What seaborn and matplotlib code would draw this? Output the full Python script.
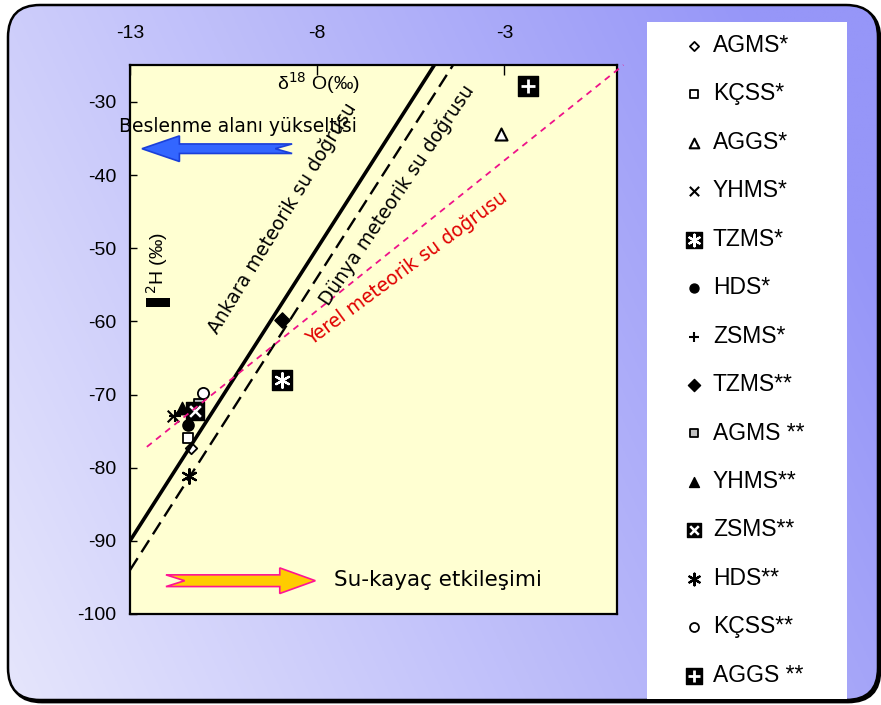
import numpy as np
import matplotlib
matplotlib.use("Agg")
import matplotlib.pyplot as plt
from matplotlib.patches import FancyBboxPatch, Rectangle, Polygon
from matplotlib.legend_handler import HandlerTuple
import seaborn as sns

# Isotope composition of the sampled waters: δ18O (‰) and δ2H (‰)
labels = ["AGMS*", "KÇSS*", "AGGS*", "YHMS*", "TZMS*", "HDS*", "ZSMS*",
          "TZMS**", "AGMS **", "YHMS**", "ZSMS**", "HDS**", "KÇSS**", "AGGS **"]
d18o = [-11.38, -11.46, -3.08, -11.84, -8.94, -11.44, -11.80,
        -8.94, -11.16, -11.62, -11.26, -11.42, -11.06, -2.36]
d2h = [-77.3, -75.9, -34.4, -73.0, -68.0, -74.1, -73.0,
       -59.8, -71.3, -71.8, -72.2, -81.1, -69.8, -27.8]

# Meteoric water lines: δ2H = slope * δ18O + intercept
line_names = ["Ankara", "Dünya", "Yerel"]
line_slopes = [8.0, 8.0, 4.1]
line_intercepts = [14.0, 10.0, -25.7]

x_ticks = [-13, -8, -3]
y_ticks = [-100, -90, -80, -70, -60, -50, -40, -30]

sns.set_style("ticks")
plt.rcParams["font.family"] = ["Liberation Sans", "DejaVu Sans"]
plt.rcParams["axes.unicode_minus"] = False
plt.rcParams["text.color"] = "black"
plt.rcParams["xtick.color"] = "black"
plt.rcParams["ytick.color"] = "black"

fig = plt.figure(figsize=(8.81, 7.05), dpi=100)
fig.patch.set_facecolor("white")

# --- rounded panel with a lavender-to-blue gradient ---
shadow = FancyBboxPatch((0.10, 0.03), 8.70, 6.95,
                        boxstyle="round,pad=0,rounding_size=0.32",
                        transform=fig.dpi_scale_trans, facecolor="black",
                        edgecolor="black", lw=2, zorder=-12)
fig.patches.append(shadow)
panel = FancyBboxPatch((0.08, 0.05), 8.70, 6.95,
                       boxstyle="round,pad=0,rounding_size=0.32",
                       transform=fig.dpi_scale_trans, facecolor="none",
                       edgecolor="black", lw=1.8, zorder=-9)
fig.patches.append(panel)

bg = fig.add_axes([0, 0, 1, 1], zorder=-10)
bg.set_axis_off()
gx, gy = np.meshgrid(np.linspace(0, 1, 300), np.linspace(0, 1, 300))
t = np.clip(0.8 * gx + 0.3 * gy + 0.02, 0, 1)
light = np.array([232, 232, 252]) / 255
dark = np.array([150, 150, 248]) / 255
img = light[None, None, :] * (1 - t[..., None]) + dark[None, None, :] * t[..., None]
im = bg.imshow(img, origin="lower", extent=[0, 1, 0, 1], aspect="auto",
               transform=fig.transFigure)
clip_box = FancyBboxPatch((0.08, 0.05), 8.70, 6.95,
                          boxstyle="round,pad=0,rounding_size=0.32",
                          transform=fig.dpi_scale_trans, facecolor="none",
                          edgecolor="none")
im.set_clip_path(clip_box)

# white legend panel
fig.patches.append(Rectangle((6.47, 0.06), 2.00, 6.77, transform=fig.dpi_scale_trans,
                             facecolor="white", edgecolor="none", zorder=-8))

# --- main plot ---
ax = fig.add_axes([130 / 881, 1 - 614 / 705, 486.7 / 881, (614 - 65.3) / 705])
ax.set_facecolor("#ffffd2")

styles = {
    "AGMS*":   dict(marker="D", s=34, color="white", edgecolor="black", linewidth=1.3),
    "KÇSS*":   dict(marker="s", s=55, color="white", edgecolor="black", linewidth=1.3),
    "AGGS*":   dict(marker="^", s=75, color="white", edgecolor="black", linewidth=1.5),
    "YHMS*":   dict(marker="x", s=70, color="black", linewidth=1.5),
    "TZMS*":   dict(marker="s", s=220, color="black", edgecolor="black", linewidth=1.0),
    "HDS*":    dict(marker="o", s=65, color="black", edgecolor="black", linewidth=1.0),
    "ZSMS*":   dict(marker="+", s=80, color="black", linewidth=1.5),
    "TZMS**":  dict(marker="D", s=60, color="black", edgecolor="black", linewidth=1.0),
    "AGMS **": dict(marker="s", s=60, color="#c0c0c0", edgecolor="black", linewidth=1.3),
    "YHMS**":  dict(marker="^", s=80, color="black", edgecolor="black", linewidth=1.0),
    "ZSMS**":  dict(marker="s", s=150, color="black", edgecolor="black", linewidth=1.0),
    "HDS**":   dict(marker=(6, 2, 0), s=110, color="black", linewidth=1.6),
    "KÇSS**":  dict(marker="o", s=65, color="white", edgecolor="black", linewidth=1.3),
    "AGGS **": dict(marker="s", s=200, color="black", edgecolor="black", linewidth=1.0),
}
overlays = {
    "TZMS*": dict(marker=(6, 2, 0), s=110, color="white", linewidth=1.6),
    "ZSMS**": dict(marker="x", s=60, color="white", linewidth=1.8),
    "AGGS **": dict(marker="+", s=110, color="white", linewidth=2.0),
}

handles = []
for lab, xv, yv in zip(labels, d18o, d2h):
    sns.scatterplot(x=[xv], y=[yv], ax=ax, legend=False, zorder=3, **styles[lab])
    base = ax.collections[-1]
    if lab in overlays:
        sns.scatterplot(x=[xv], y=[yv], ax=ax, legend=False, zorder=3.1, **overlays[lab])
        handles.append((base, ax.collections[-1]))
    else:
        handles.append(base)

# meteoric water lines
line_styles = {
    "Ankara": dict(color="black", lw=2.6, dashes=None, x0=-13.0, x1=0.0, clip=True),
    "Dünya": dict(color="black", lw=1.7, dashes=(6, 3), x0=-13.0, x1=0.0, clip=True),
    "Yerel": dict(color="#ee1289", lw=1.3, dashes=(3.5, 3), x0=-12.55, x1=0.18, clip=False),
}
for name, m, b in zip(line_names, line_slopes, line_intercepts):
    st = line_styles[name]
    xs = np.array([st["x0"], st["x1"]])
    sns.lineplot(x=xs, y=m * xs + b, ax=ax, color=st["color"], lw=st["lw"],
                 zorder=4, clip_on=st["clip"], legend=False)
    ln = ax.lines[-1]
    if st["dashes"] is not None:
        ln.set_dashes(st["dashes"])

ax.set_xlim(-13, 0)
ax.set_ylim(-100, -25)
ax.xaxis.tick_top()
ax.set_xticks(x_ticks)
ax.set_yticks(y_ticks)
ax.tick_params(axis="x", direction="in", length=7, width=1, pad=17, labelsize=14)
ax.tick_params(axis="y", direction="in", length=5, width=1, pad=10, labelsize=14)
ax.set_xlabel("")
ax.set_ylabel("")
for sp in ax.spines.values():
    sp.set_visible(True)
    sp.set_color("black")
    sp.set_linewidth(1.6)

# axis titles inside the plot
ax.text(-7.97, -27.4, "δ$^{18}$ O(‰)", ha="center", va="center", fontsize=14,
        family=["Liberation Sans", "DejaVu Sans"], zorder=5)
ax.text(-12.28, -52.0, "$^{2}$H (‰)", ha="center", va="center", rotation=90,
        fontsize=14, family=["Liberation Sans", "DejaVu Sans"], zorder=5)
ax.add_patch(Rectangle((-12.57, -58.1), 0.64, 1.3, facecolor="black",
                       edgecolor="none", zorder=6))

hand = ["DejaVu Sans"]
ax.text(-10.11, -33.3, "Beslenme alanı yükseltisi", ha="center", va="center",
        fontsize=13.5, family=hand, zorder=6, clip_on=False)
ax.text(-8.94, -45.9, "Ankara meteorik su doğrusu", ha="center", va="center",
        rotation=58.5, rotation_mode="anchor", fontsize=13.5, family=hand, zorder=6)
ax.text(-5.86, -42.8, "Dünya meteorik su doğrusu", ha="center", va="center",
        rotation=56, rotation_mode="anchor", fontsize=13.5, family=hand, zorder=6)
ax.text(-5.62, -52.7, "Yerel meteorik su doğrusu", ha="center", va="center",
        rotation=36.5, rotation_mode="anchor", fontsize=13.5, family=hand,
        color="#e00000", zorder=6)
ax.text(-7.55, -95.4, "Su-kayaç etkileşimi", ha="left", va="center",
        fontsize=15.5, family=hand, zorder=6)

# arrows (swallow-tailed)
def arrow_shape(x_tail, x_tip, yc, head_len, head_h, body_h, notch):
    d = np.sign(x_tip - x_tail)
    xb = x_tip - d * head_len
    return [(x_tip, yc), (xb, yc + head_h), (xb, yc + body_h),
            (x_tail, yc + body_h), (x_tail + d * notch, yc),
            (x_tail, yc - body_h), (xb, yc - body_h), (xb, yc - head_h)]

ax.add_patch(Polygon(arrow_shape(-8.67, -12.68, -36.4, 1.0, 1.75, 0.65, 0.45),
                     closed=True, facecolor="#3366ff", edgecolor="#1a3fd9",
                     lw=1.2, zorder=6))
ax.add_patch(Polygon(arrow_shape(-12.04, -8.05, -95.45, 0.95, 1.75, 0.8, 0.5),
                     closed=True, facecolor="#ffcc00", edgecolor="#ff1493",
                     lw=1.2, zorder=6))

# legend in the white side panel
fig.legend(handles, labels, loc="upper left", bbox_to_anchor=(683 / 881, 1 - 34 / 705),
           frameon=False, fontsize=16.5, handlelength=1.0, handletextpad=0.3,
           labelspacing=1.11, borderpad=0, borderaxespad=0, markerscale=0.8,
           handler_map={tuple: HandlerTuple(ndivide=1)})

fig.savefig("out.png", dpi=100)
